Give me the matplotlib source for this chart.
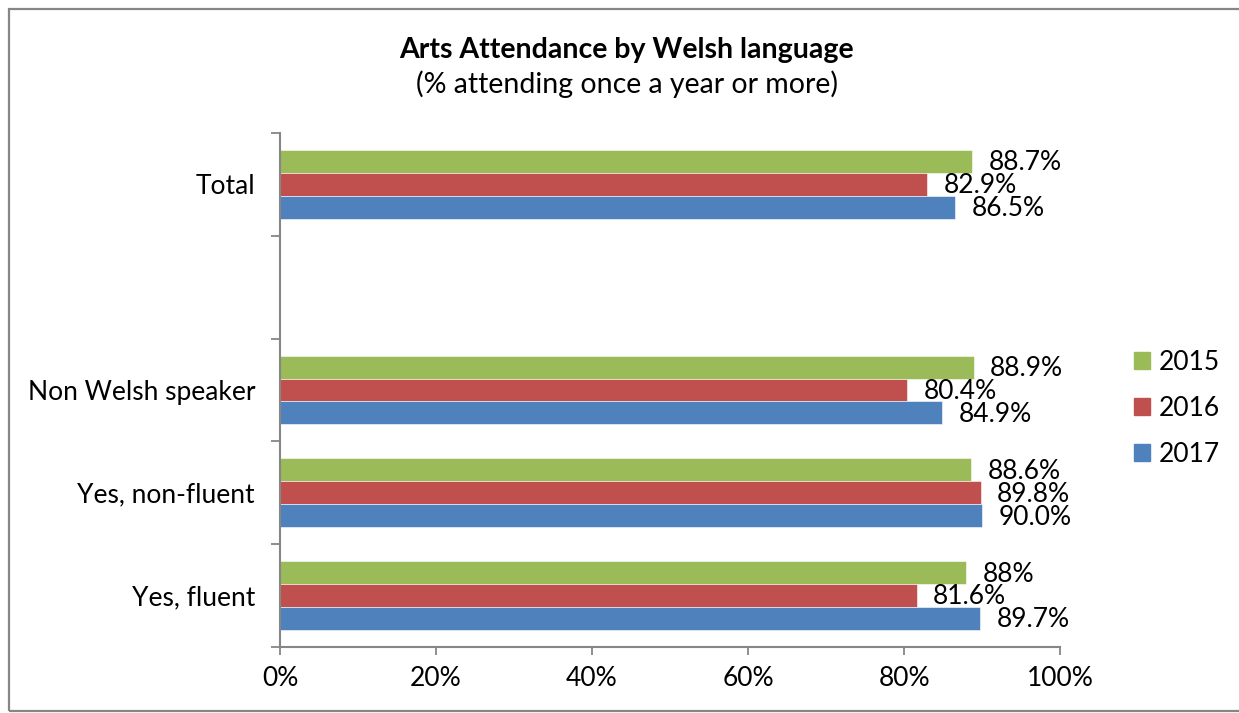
import matplotlib
matplotlib.use("Agg")
import matplotlib.pyplot as plt
import matplotlib.patches as mpatches
import matplotlib.ticker as mticker
import numpy as np

# ── data ────────────────────────────────────────────────────────────────
categories = ["Yes, fluent", "Yes, non-fluent", "Non Welsh speaker", "", "Total"]
years = ["2015", "2016", "2017"]
# values as printed on the labels (blank slot between groups has none)
pct_2015 = ["88", "88.6", "88.9", None, "88.7"]
pct_2016 = ["81.6", "89.8", "80.4", None, "82.9"]
pct_2017 = ["89.7", "90.0", "84.9", None, "86.5"]

# ── style ───────────────────────────────────────────────────────────────
COLORS = {"2015": "#9BBB59", "2016": "#C0504D", "2017": "#4F81BD"}
AXIS_COLOR = "#868686"
FONT = "Lato"
FS = 19
TITLE_FS = 20.5

plt.rcParams["font.family"] = [FONT, "DejaVu Sans"]

fig = plt.figure(figsize=(12.39, 7.13), dpi=100)
ax = fig.add_axes([0.226, 0.0926, 0.6296, 0.7209])

series = {"2015": pct_2015, "2016": pct_2016, "2017": pct_2017}
bar_h = 0.667 / 3
offsets = {"2015": bar_h, "2016": 0.0, "2017": -bar_h}
y = np.arange(len(categories))

for yr in years:
    vals = series[yr]
    for i, v in enumerate(vals):
        if v is None:
            continue
        val = float(v)
        yy = y[i] + offsets[yr]
        ax.barh(yy, val, height=bar_h, color=COLORS[yr],
                edgecolor="white", linewidth=0.4, zorder=2)
        ax.annotate(f"{v}%", xy=(val, yy), xytext=(12, -1),
                    textcoords="offset points", ha="left", va="center",
                    fontsize=FS, color="black", zorder=5)

ax.set_xlim(0, 100)
ax.set_ylim(-0.5, len(categories) - 0.5)
ax.xaxis.set_major_locator(mticker.MultipleLocator(20))
ax.xaxis.set_major_formatter(mticker.PercentFormatter(decimals=0))

# slot boundaries carry the tick marks, category names sit between them
ax.set_yticks(np.arange(-0.5, len(categories), 1.0))
ax.set_yticklabels([])
ax.set_yticks(y, minor=True)
ax.set_yticklabels(categories, minor=True)
ax.tick_params(axis="y", which="major", length=6.5, width=1.3,
               color=AXIS_COLOR, direction="out")
ax.tick_params(axis="y", which="minor", length=0, pad=18, labelsize=FS)
ax.tick_params(axis="x", length=6, width=1.3, color=AXIS_COLOR,
               direction="out", pad=8, labelsize=FS)

for side in ["top", "right"]:
    ax.spines[side].set_visible(False)
for side in ["left", "bottom"]:
    ax.spines[side].set_color(AXIS_COLOR)
    ax.spines[side].set_linewidth(1.5)

# legend, top to bottom 2015 → 2017
handles = [mpatches.Patch(color=COLORS[yr]) for yr in years]
fig.legend(handles, years, loc="center left", bbox_to_anchor=(0.915, 0.427),
           frameon=False, fontsize=FS, handlelength=0.6, handleheight=0.6,
           handletextpad=0.35, labelspacing=0.8, borderpad=0, borderaxespad=0)

fig.text(0.506, 0.930, "Arts Attendance by Welsh language", ha="center",
         va="center", fontsize=TITLE_FS, fontweight="bold")
fig.text(0.506, 0.882, "(% attending once a year or more)", ha="center",
         va="center", fontsize=TITLE_FS)

# chart frame
fig.patches.append(mpatches.Rectangle((9 / 1239, 2 / 713), 1.1, 702 / 713,
                                      transform=fig.transFigure, fill=False,
                                      ec=AXIS_COLOR, lw=1.6))

fig.savefig("out.png", dpi=100)
